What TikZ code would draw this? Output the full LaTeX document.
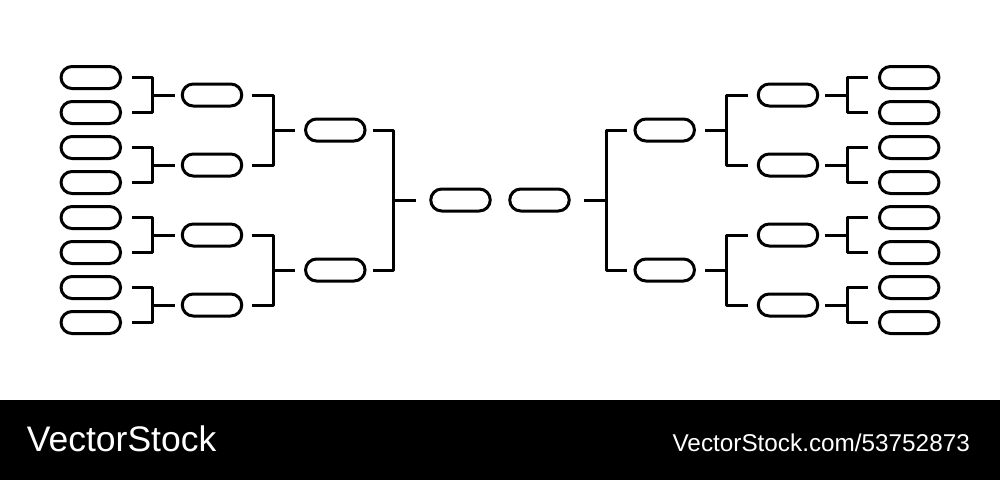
\documentclass[tikz,border=0pt]{standalone}
\usepackage{fontspec}
\setmainfont{Liberation Sans}
\usetikzlibrary{calc}
\begin{document}
\begin{tikzpicture}[x=1pt,y=-1pt,
  pill/.style={draw=black,line width=3pt,rounded corners=11pt,rectangle,
    minimum width=59.5pt,minimum height=22pt,inner sep=0pt},
  link/.style={draw=black,line width=3pt,line join=round},
  mark1/.style={text=white,inner sep=0pt,anchor=base west,font=\fontsize{35.5}{40}\selectfont},
  mark2/.style={text=white,inner sep=0pt,anchor=base east,font=\fontsize{24.3}{28}\selectfont}]
\useasboundingbox (0,0) rectangle (1000,480);
\fill[white] (0,0) rectangle (1000,400);
\fill[black] (0,400) rectangle (1000,480);

% left side
\foreach \i in {1,...,8} \node[pill] (Lp\i) at (90.8,42.5+35*\i) {};
\foreach \i in {1,...,4} \node[pill] (Lq\i) at (212,25+70*\i) {};
\node[pill] (Lr1) at (335.3,130) {};
\node[pill] (Lr2) at (335.3,270) {};
\node[pill] (LF) at (460.5,200) {};
% right side
\foreach \i in {1,...,8} \node[pill] (Rp\i) at (909.2,42.5+35*\i) {};
\foreach \i in {1,...,4} \node[pill] (Rq\i) at (788,25+70*\i) {};
\node[pill] (Rr1) at (664.7,130) {};
\node[pill] (Rr2) at (664.7,270) {};
\node[pill] (RF) at (539.5,200) {};

% round 1 brackets
\foreach \j [evaluate=\j as \a using int(2*\j-1), evaluate=\j as \b using int(2*\j)] in {1,...,4} {
  \draw[link] ($(Lp\a.east)+(10,0)$) -- ($(Lq\j.west |- Lp\a.east)+(-28.2,0)$)
     -- ($(Lq\j.west |- Lp\b.east)+(-28.2,0)$) -- ($(Lp\b.east)+(10,0)$);
  \draw[link] ($(Lq\j.west)+(-28.2,0)$) -- ($(Lq\j.west)+(-5.7,0)$);
  \draw[link] ($(Rp\a.west)+(-10,0)$) -- ($(Rq\j.east |- Rp\a.west)+(28.2,0)$)
     -- ($(Rq\j.east |- Rp\b.west)+(28.2,0)$) -- ($(Rp\b.west)+(-10,0)$);
  \draw[link] ($(Rq\j.east)+(28.2,0)$) -- ($(Rq\j.east)+(5.7,0)$);
}
% round 2 brackets
\foreach \j [evaluate=\j as \a using int(2*\j-1), evaluate=\j as \b using int(2*\j)] in {1,2} {
  \draw[link] ($(Lq\a.east)+(8.4,0)$) -- ($(Lr\j.west |- Lq\a.east)+(-31,0)$)
     -- ($(Lr\j.west |- Lq\b.east)+(-31,0)$) -- ($(Lq\b.east)+(8.4,0)$);
  \draw[link] ($(Lr\j.west)+(-31,0)$) -- ($(Lr\j.west)+(-9,0)$);
  \draw[link] ($(Rq\a.west)+(-8.4,0)$) -- ($(Rr\j.east |- Rq\a.west)+(31,0)$)
     -- ($(Rr\j.east |- Rq\b.west)+(31,0)$) -- ($(Rq\b.west)+(-8.4,0)$);
  \draw[link] ($(Rr\j.east)+(31,0)$) -- ($(Rr\j.east)+(9,0)$);
}
% round 3 brackets
\draw[link] ($(Lr1.east)+(6,0)$) -- ($(LF.west |- Lr1.east)+(-35.3,0)$)
   -- ($(LF.west |- Lr2.east)+(-35.3,0)$) -- ($(Lr2.east)+(6,0)$);
\draw[link] ($(LF.west)+(-35.3,0)$) -- ($(LF.west)+(-13.3,0)$);
\draw[link] ($(Rr1.west)+(-6,0)$) -- ($(RF.east |- Rr1.west)+(35.3,0)$)
   -- ($(RF.east |- Rr2.west)+(35.3,0)$) -- ($(Rr2.west)+(-6,0)$);
\draw[link] ($(RF.east)+(35.3,0)$) -- ($(RF.east)+(13.3,0)$);

% watermark band
\node[mark1] (wm1) at (26.7,451.7) {VectorStock};
\node[mark2] (wm2) at (970,451) {VectorStock.com/53752873};
\end{tikzpicture}
\end{document}
